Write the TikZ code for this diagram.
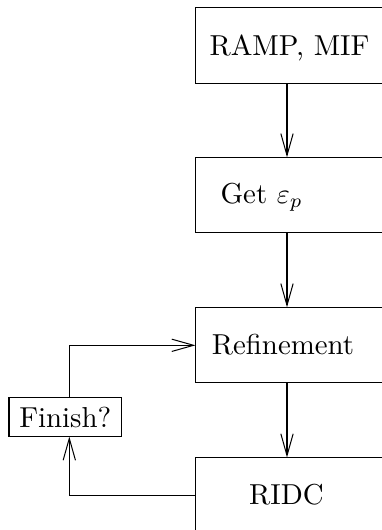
\documentclass[tikz,border=0pt]{standalone}
\usetikzlibrary{arrows.meta}
\begin{document}
\begin{tikzpicture}[x=0.357pt,y=-0.357pt,
  line width=0.36pt,
  every node/.style={font=\fontsize{10.3}{12}\selectfont},
  boxnode/.style={draw, rectangle, minimum width=80pt, minimum height=26.8pt, inner sep=0pt},
  txt/.style={anchor=base, inner sep=0pt},
  arr/.style={-{Straight Barb[length=7.8pt,width=4.4pt]}}]
\useasboundingbox (0,0) rectangle (382,530);
\clip (0,0) rectangle (382,530);
\node[boxnode] (b1) at (308,45.5) {};
\node[boxnode] (b2) at (308,195.3) {};
\node[boxnode] (b3) at (308,345.3) {};
\node[boxnode] (b4) at (308,495.5) {};
\node[txt] (t1) at (289.5,55) {RAMP, MIF};
\node[txt] (t2) at (261.7,203.3) {Get $\varepsilon_p$};
\node[txt] (t3) at (283,354) {Refinement};
\node[txt] (t4) at (286.5,504) {RIDC};
\node[draw, rectangle, minimum width=40.2pt, minimum height=13.6pt, inner sep=0pt] (fin) at (65.3,417) {Finish?};
\coordinate (ax) at (287,0);
\coordinate (lx) at (69.3,0);
\draw[arr] (b1.south -| ax) -- (b2.north -| ax);
\draw[arr] (b2.south -| ax) -- (b3.north -| ax);
\draw[arr] (b3.south -| ax) -- (b4.north -| ax);
\draw[arr] (b4.west) -| (fin.south -| lx);
\draw[arr] (fin.north -| lx) |- (b3.west);
\end{tikzpicture}
\end{document}
